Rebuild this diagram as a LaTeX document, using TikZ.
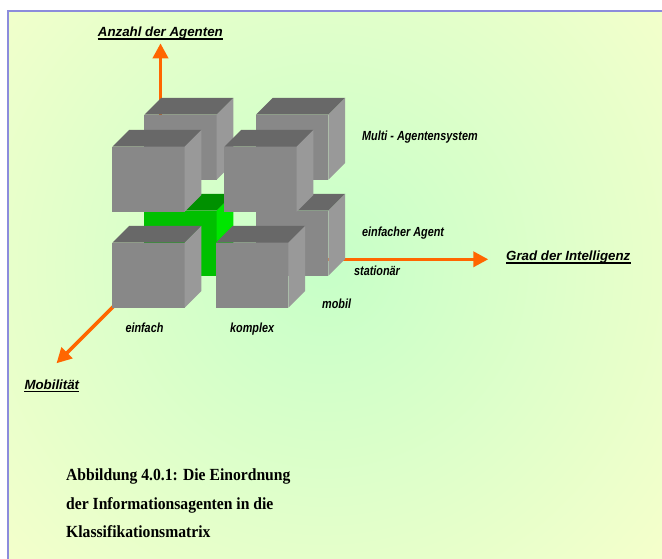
\documentclass[tikz,border=0pt]{standalone}
\usepackage{fontspec}
\setmainfont{Liberation Serif}
\newfontfamily\axisfont{Liberation Sans}
\newfontfamily\narrowfont[FakeStretch=0.82]{Liberation Sans}
\newfontfamily\capfont[FakeStretch=0.92]{Liberation Serif}
\usetikzlibrary{arrows.meta}

\definecolor{axisorange}{RGB}{255,102,0}
\definecolor{cubefront}{RGB}{136,136,136}
\definecolor{cubetop}{RGB}{104,104,104}
\definecolor{cubeside}{RGB}{153,153,153}
\definecolor{greenfront}{RGB}{0,192,0}
\definecolor{greentop}{RGB}{0,144,0}
\definecolor{greenside}{RGB}{0,230,0}
\definecolor{framelilac}{RGB}{140,140,220}
\definecolor{bgyellow}{RGB}{255,255,204}
\definecolor{bggreen}{RGB}{198,255,200}

% a box seen in oblique projection: front face top-left corner (#1,#2)
\newcommand{\drawcube}[5]{%
  \fill[#3] (#1,#2) rectangle ++(72.3,65);
  \fill[#4] (#1,#2) -- ++(16.7,-16.7) -- ++(72.3,0) -- ++(-16.7,16.7) -- cycle;
  \fill[#5] (#1+72.3,#2) -- ++(16.7,-16.7) -- ++(0,65) -- ++(-16.7,16.7) -- cycle;
}

\tikzset{
  axis/.style={draw=axisorange, line width=3.6pt,
    -{Triangle[width=15pt,length=15pt]}},
  axislabel/.style={inner sep=0pt, anchor=base west,
    font=\axisfont\bfseries\itshape\fontsize{13.3}{16}\selectfont},
  celllabel/.style={inner sep=0pt, anchor=base west,
    font=\narrowfont\bfseries\itshape\fontsize{13.2}{16}\selectfont},
  captionline/.style={inner sep=0pt, anchor=base west,
    font=\capfont\bfseries\fontsize{17}{20}\selectfont},
  underlined/.style={line width=1.3pt},
}

\begin{document}
\begin{tikzpicture}[x=1pt, y=-1pt]
\useasboundingbox (0,0) rectangle (662,559);

% framed background with soft green centre
\fill[bgyellow] (8,11) rectangle (662,559);
\begin{scope}
  \clip (8,11) rectangle (662,559);
  \shade[inner color=bggreen, outer color=bgyellow] (325,265) circle (540);
\end{scope}
\draw[framelilac, line width=2pt] (8,559) -- (8,11) -- (662,11);

% axes from the common origin
\coordinate (O) at (160.5,259.3);
\coordinate (ytip) at (160.5,43.3);
\coordinate (xtip) at (488.3,259.3);
\coordinate (ztip) at (56.5,363.3);
\draw[axis] (O) -- (ytip);
\draw[axis] (O) -- (xtip);
\draw[axis] (O) -- (ztip);

% rear layer (stationary)
\drawcube{144.3}{114.7}{cubefront}{cubetop}{cubeside}
\drawcube{256}{114.7}{cubefront}{cubetop}{cubeside}
\drawcube{144.3}{210.7}{greenfront}{greentop}{greenside}
\drawcube{256}{210.7}{cubefront}{cubetop}{cubeside}
% front layer (mobile)
\drawcube{112.3}{146.7}{cubefront}{cubetop}{cubeside}
\drawcube{224.3}{146.7}{cubefront}{cubetop}{cubeside}
\drawcube{112.3}{242.7}{cubefront}{cubetop}{cubeside}
\drawcube{216}{242.7}{cubefront}{cubetop}{cubeside}

% axis titles
\node[axislabel] (lblY) at (97.7,36.7) {Anzahl der Agenten};
\node[axislabel] (lblX) at (506,260.5) {Grad der Intelligenz};
\node[axislabel] (lblZ) at (24.3,389) {Mobilität};
\foreach \n in {lblY,lblX,lblZ}
  \draw[underlined] ([yshift=-2.4pt]\n.base west) -- ([yshift=-2.4pt]\n.base east);

% scale labels
\node[celllabel] (multi) at (362,141) {Multi - Agentensystem};
\node[celllabel] (single) at (362,236.7) {einfacher Agent};
\node[celllabel] (stat) at (354,275.7) {stationär};
\node[celllabel] (mob) at (322,308.3) {mobil};
\node[celllabel] (simple) at (125.3,332.7) {einfach};
\node[celllabel] (complex) at (230,332.7) {komplex};

% caption
\node[captionline] (cap1) at (66,480.3) {Abbildung 4.0.1: Die Einordnung};
\node[captionline] (cap2) at (66,509) {der Informationsagenten in die};
\node[captionline] (cap3) at (66,537.3) {Klassifikationsmatrix};
\end{tikzpicture}
\end{document}
